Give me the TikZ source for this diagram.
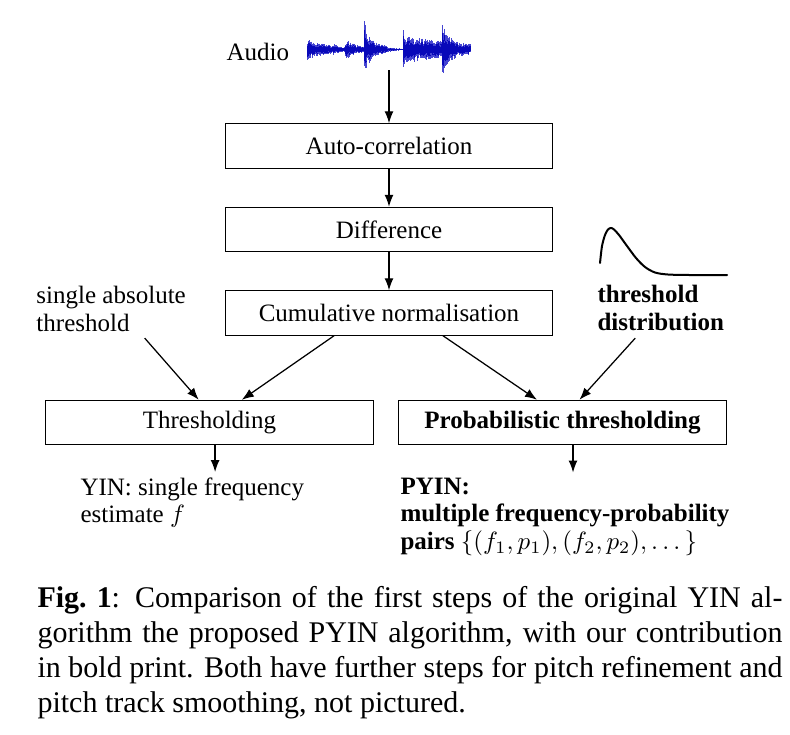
\documentclass[tikz,border=0pt]{standalone}
\usepackage{amsmath,amssymb}
\usepackage{fontspec}
\setmainfont{Liberation Serif}
\usepackage{tikz}
\usetikzlibrary{calc, arrows.meta, positioning}
\definecolor{wavedark}{RGB}{8,8,185}
\definecolor{wavelight}{RGB}{70,70,210}

\begin{document}
\begin{tikzpicture}[x=0.4pt, y=-0.4pt, >={Latex[length=4.8pt,width=3.6pt]},
    declare function={ons(\xa,\xb,\xc,\xd)=(\xa>\xb)*\xc*exp(-min(max(\xa-\xb,0)/\xd,9));}]
            % Block styles
            \tikzstyle{stage} = [rectangle, draw, line width=0.4pt, text centered, minimum width=131pt, minimum height=17.8pt, inner sep=0pt, font=\fontsize{10}{11}\selectfont]
            \tikzstyle{note} = [inner sep=0pt, align=left, font=\fontsize{10}{11}\selectfont]
            \tikzstyle{wave} = [line width=0.3pt]
            \tikzstyle{conn} = [->, line width=0.5pt]
            \useasboundingbox (0,0) rectangle (790,734);
            % Audio waveform
            \pgfmathsetseed{42}
            \foreach \tx in {307,307.5,...,470}{
                \pgfmathsetmacro{\env}{max(0.8,ons(\tx,307,11,25),ons(\tx,333,6,10),ons(\tx,345,10,15),ons(\tx,364,38,3),ons(\tx,364,20,12),ons(\tx,382,6,8),ons(\tx,403,30,3),ons(\tx,403,14,80),ons(\tx,442,40,3),ons(\tx,442,22,15))}
                \pgfmathsetmacro{\up}{\env*(0.45+0.55*rnd)}
                \pgfmathsetmacro{\dn}{\env*(0.45+0.55*rnd)}
                \draw[wave, wavelight] (\tx,49.5-\up) -- (\tx,49.5+\dn);
                \draw[wave, wavedark] (\tx,49.5-0.7*\up) -- (\tx,49.5+0.7*\dn);
            }
            \coordinate (audioout) at (389,70);
            % Threshold distribution curve
            \draw[line width=0.8pt, line cap=round] plot[smooth] coordinates {(600,263) (602,246) (605,235) (608,229.5) (611,228) (614,229.5) (619,235) (627,246) (636,258) (645,267) (655,272.5) (668,274.5) (690,275) (727,275)};
            % Processing steps
            \node[stage] (acorr) at (389,146) {Auto-correlation};
            \node[stage, below=15.2pt of acorr] (diff) {Difference};
            \node[stage, below=15.2pt of diff] (cumnorm) {Cumulative normalisation};
            \node[stage, below=25.6pt of cumnorm, xshift=-71.8pt] (thresh) {Thresholding};
            \node[stage, below=25.6pt of cumnorm, xshift=69.4pt, font=\fontsize{10}{11}\selectfont\bfseries] (pthresh) {Probabilistic thresholding};
            % Labels
            \node[note, anchor=base west] (audio) at (226,60) {Audio};
            \node[note, anchor=north west] (absthr) at (36,286) {single absolute\\threshold};
            \node[note, anchor=north west, font=\fontsize{10}{11}\selectfont\bfseries] (tdist) at (597,285) {threshold\\distribution};
            \node[note, anchor=north west, inner ysep=2pt] (yin) at (80,472) {YIN: single frequency\\estimate $f$};
            \node[note, anchor=north west, inner ysep=2pt, font=\fontsize{10}{11}\selectfont\bfseries] (pyin) at (400,472.5) {PYIN:\\multiple frequency-probability\\pairs $\{(f_1,p_1),(f_2,p_2),\dots\}$};
            % Connections
            \draw[conn] (audioout) -- (acorr);
            \draw[conn] (acorr) -- (diff);
            \draw[conn] (diff) -- (cumnorm);
            \draw[conn] ($(absthr.south east)+(-41.6,6)$) -- ($(thresh.north)+(-10.8,0)$);
            \draw[conn] ($(cumnorm.south)+(-55,0)$) -- ($(thresh.north)+(32.3,0)$);
            \draw[conn] ($(cumnorm.south)+(54,0)$) -- ($(pthresh.north)+(-25.5,0)$);
            \draw[conn] ($(tdist.south)+(-25.5,7)$) -- ($(pthresh.north)+(17,0)$);
            \coordinate (yinout) at ($(thresh.south)+(5.6,0)$);
            \coordinate (pyinout) at ($(pthresh.south)+(10.5,0)$);
            \draw[conn] (yinout) -- (yinout |- yin.north);
            \draw[conn] (pyinout) -- (pyinout |- pyin.north);
            % Caption
            \node[anchor=north west, inner sep=0pt, text width=298pt, align=justify, font=\fontsize{12}{14}\selectfont] (caption) at (37,586) {\textbf{Fig.~1}: Comparison of the first steps of the original YIN al-\linebreak gorithm the proposed PYIN algorithm, with our contribution\linebreak in bold print. Both have further steps for pitch refinement and\linebreak pitch track smoothing, not pictured.};
        \end{tikzpicture}
\end{document}
